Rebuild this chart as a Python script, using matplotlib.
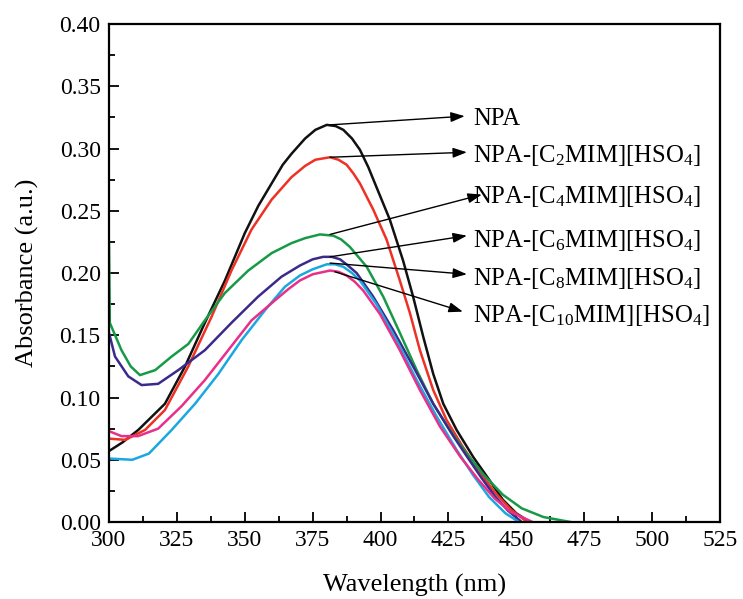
import matplotlib
matplotlib.use("Agg")
import matplotlib.pyplot as plt
from matplotlib.ticker import MultipleLocator

plt.rcParams["font.family"] = ["Liberation Serif", "DejaVu Serif"]
plt.rcParams["mathtext.fontset"] = "custom"
plt.rcParams["mathtext.rm"] = "Liberation Serif"
plt.rcParams["mathtext.it"] = "Liberation Serif:italic"

# UV-vis spectra (wavelength in nm, absorbance in a.u.)
wl_npa = [300, 305, 310.8, 315, 320.6, 328, 335.3, 342.7, 350, 355, 359.9, 364, 367.3, 372.2,
          376, 380.2, 383.5, 386.3, 389.5, 392.4, 395.5, 398.5, 403.4, 408.3, 412, 415.7,
          419.4, 423.1, 428, 434.2, 440, 445, 450, 455]
abs_npa = [0.057, 0.064, 0.074, 0.083, 0.095, 0.125, 0.160, 0.194, 0.232, 0.254, 0.272, 0.287,
           0.296, 0.308, 0.315, 0.319, 0.318, 0.315, 0.308, 0.299, 0.285, 0.269, 0.243, 0.210,
           0.181, 0.149, 0.119, 0.095, 0.074, 0.052, 0.034, 0.018, 0.007, 0.0]

wl_c2 = [300, 306, 313.3, 320.6, 329.2, 337.8, 345.1, 352.5, 359.9, 367.2, 372.2, 376, 381.4,
         384.5, 387.5, 390, 392.4, 397.3, 402.2, 407.1, 410.8, 414.5, 419.4, 424.3, 430.4, 436,
         442, 448, 454]
abs_c2 = [0.067, 0.066, 0.074, 0.090, 0.125, 0.165, 0.202, 0.235, 0.259, 0.277, 0.286, 0.291,
          0.293, 0.291, 0.287, 0.280, 0.272, 0.251, 0.227, 0.194, 0.168, 0.138, 0.106, 0.082,
          0.060, 0.042, 0.024, 0.010, 0.0]

wl_c4 = [300, 300.3, 304.6, 308, 311.4, 317, 323.1, 329.2, 335.3, 342.7, 351.3, 359.9, 367.2,
         372.2, 377.7, 382.6, 385.5, 388.7, 394.9, 401, 407.1, 413.3, 419.4, 425.5, 431.7, 438,
         445, 452, 460, 470]
abs_c4 = [0.224, 0.160, 0.138, 0.125, 0.118, 0.122, 0.133, 0.143, 0.162, 0.184, 0.202, 0.216,
          0.224, 0.228, 0.231, 0.230, 0.227, 0.221, 0.205, 0.181, 0.152, 0.122, 0.095, 0.074,
          0.055, 0.038, 0.022, 0.011, 0.004, 0.0]

wl_c6 = [300, 302.2, 307.1, 312, 318.1, 325.5, 335.3, 345.1, 354.9, 363.5, 370.3, 375, 378.9,
         382, 385.1, 388, 391.2, 397.3, 404.7, 412, 419.4, 426.8, 431.7, 437, 442, 447, 452]
abs_c6 = [0.152, 0.133, 0.117, 0.110, 0.111, 0.122, 0.138, 0.160, 0.181, 0.197, 0.206, 0.211,
          0.213, 0.213, 0.211, 0.206, 0.200, 0.181, 0.154, 0.125, 0.095, 0.069, 0.053, 0.036,
          0.021, 0.009, 0.0]

wl_c8 = [300, 308.6, 314.7, 323.1, 331.7, 340.3, 348.8, 357.4, 364.8, 370.3, 375, 380.2, 383.3,
         386.3, 389.5, 392.4, 398.5, 405.9, 413.3, 420.6, 428, 434, 440, 446, 451]
abs_c8 = [0.051, 0.050, 0.055, 0.074, 0.095, 0.119, 0.146, 0.170, 0.189, 0.198, 0.203, 0.207,
          0.207, 0.205, 0.200, 0.194, 0.175, 0.146, 0.114, 0.085, 0.058, 0.038, 0.020, 0.007, 0.0]

wl_c10 = [300, 304.6, 310.7, 318.1, 326.7, 335.3, 343.9, 352.5, 361.1, 366, 370.3, 375, 381.4,
          384.5, 387.5, 390.5, 393.6, 399.8, 407.1, 414.5, 421.8, 429.2, 436, 442, 448, 456]
abs_c10 = [0.073, 0.069, 0.069, 0.075, 0.093, 0.114, 0.138, 0.162, 0.178, 0.187, 0.194, 0.199,
           0.202, 0.201, 0.198, 0.193, 0.186, 0.167, 0.138, 0.106, 0.077, 0.053, 0.034, 0.019,
           0.008, 0.0]

series = [
    (wl_npa, abs_npa, "#111111"),
    (wl_c2, abs_c2, "#ee3124"),
    (wl_c4, abs_c4, "#179a47"),
    (wl_c6, abs_c6, "#3b2a8c"),
    (wl_c8, abs_c8, "#1ba8e0"),
    (wl_c10, abs_c10, "#e8308a"),
]

labels = [
    "NPA",
    r"NPA-[C$_{\mathrm{2}}$MIM][HSO$_{\mathrm{4}}$]",
    r"NPA-[C$_{\mathrm{4}}$MIM][HSO$_{\mathrm{4}}$]",
    r"NPA-[C$_{\mathrm{6}}$MIM][HSO$_{\mathrm{4}}$]",
    r"NPA-[C$_{\mathrm{8}}$MIM][HSO$_{\mathrm{4}}$]",
    r"NPA-[C$_{\mathrm{10}}$MIM][HSO$_{\mathrm{4}}$]",
]
# label baselines and arrow start (peak) / end points, in data units
label_y = [0.319, 0.289, 0.256, 0.221, 0.190, 0.161]
arrow_from = [(381.4, 0.319), (381.4, 0.293), (381.4, 0.231),
              (381.4, 0.213), (381.4, 0.208), (383.2, 0.201)]
arrow_to = [(431.0, 0.326), (431.8, 0.297), (437.3, 0.263),
            (431.8, 0.230), (431.8, 0.199), (430.3, 0.169)]

fig = plt.figure(figsize=(7.43, 5.99), dpi=100)
ax = fig.add_axes([0.1467, 0.1285, 0.8223, 0.8314])

for x, y, c in series:
    ax.plot(x, y, color=c, lw=1.8)

for lab, ly, a0, a1 in zip(labels, label_y, arrow_from, arrow_to):
    ax.annotate("", xy=a1, xytext=a0,
                arrowprops=dict(arrowstyle="-|>,head_length=0.7,head_width=0.25",
                                color="black", lw=1.0, mutation_scale=12,
                                shrinkA=0, shrinkB=0))
    ax.text(434.0, ly, lab, fontsize=17.8, va="baseline", ha="left")

ax.set_xlim(300, 525)
ax.set_ylim(0, 0.40)
ax.xaxis.set_major_locator(MultipleLocator(25))
ax.xaxis.set_minor_locator(MultipleLocator(12.5))
ax.yaxis.set_major_locator(MultipleLocator(0.05))
ax.yaxis.set_minor_locator(MultipleLocator(0.025))
ax.yaxis.set_major_formatter(plt.FormatStrFormatter("%.2f"))
ax.tick_params(which="both", direction="in", top=False, right=False,
               labelsize=17, width=1.3)
ax.tick_params(which="major", length=7, pad=6)
ax.tick_params(which="minor", length=4)
for sp in ax.spines.values():
    sp.set_linewidth(1.6)

ax.set_xlabel("Wavelength (nm)", fontsize=19, labelpad=16)
ax.set_ylabel("Absorbance (a.u.)", fontsize=19, labelpad=15)

fig.savefig("out.png", dpi=100)
